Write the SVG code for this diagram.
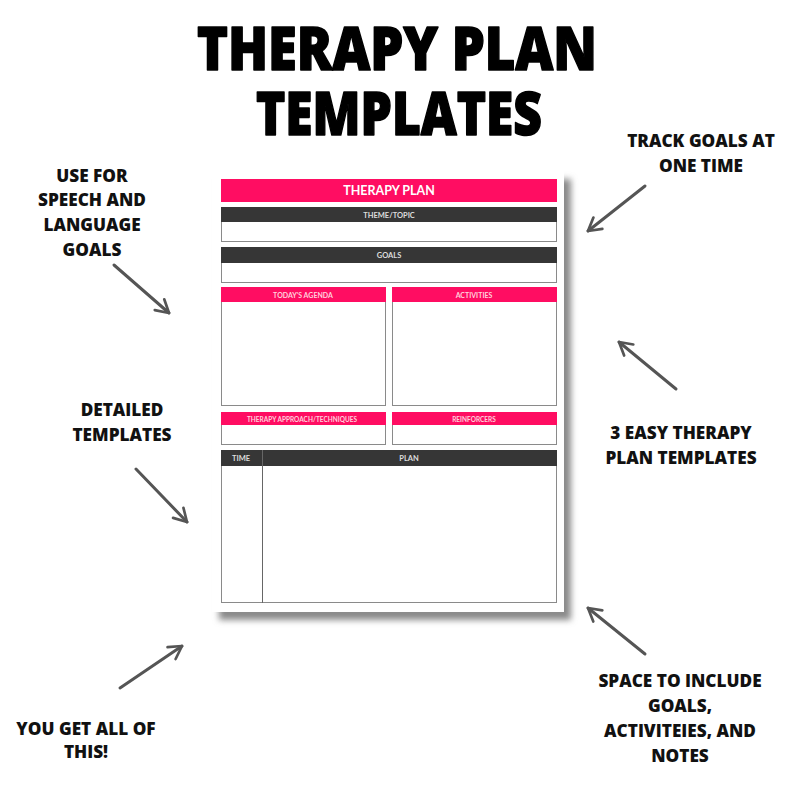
<svg xmlns="http://www.w3.org/2000/svg" width="794" height="794" viewBox="0 0 794 794">
<defs>
<style>
.title{font-family:"Open Sans","Liberation Sans",sans-serif;font-weight:800;font-size:60px;fill:#000;stroke:#000;stroke-width:1.6;stroke-linejoin:round;text-anchor:middle}
.lbl{font-family:"Open Sans","Liberation Sans",sans-serif;font-weight:800;font-size:17.2px;fill:#111;text-anchor:middle}
.arrow{stroke:#555;stroke-width:3;fill:none;stroke-linecap:round;stroke-linejoin:round}
.pink{fill:#ff0d62}
.dark{fill:#363636}
.box{fill:#fff;stroke:#8a8a8a;stroke-width:1}
.ph{font-family:Lato,"Open Sans",sans-serif;font-weight:700;text-anchor:middle}
</style>
<filter id="sh" x="-10%" y="-10%" width="120%" height="120%">
<feGaussianBlur stdDeviation="3"/>
</filter>
<marker id="ah" viewBox="0 0 20 20" refX="17" refY="10" markerWidth="6" markerHeight="6" markerUnits="strokeWidth" orient="auto">
<path d="M3,2 L17,10 L3,18" fill="none" stroke="#555" stroke-width="3" stroke-linecap="round" stroke-linejoin="round"/>
</marker>
</defs>
<rect width="794" height="794" fill="#fff"/>
<g id="title">
<text class="title" x="397" y="70" textLength="400" lengthAdjust="spacingAndGlyphs">THERAPY PLAN</text>
<text class="title" x="399" y="135" textLength="286" lengthAdjust="spacingAndGlyphs">TEMPLATES</text>
</g>
<g id="page">
<rect x="219" y="179" width="352" height="441" fill="#8a8a8a" filter="url(#sh)"/>
<rect x="212" y="171" width="352" height="441" fill="#fff"/>
<rect class="pink" x="221" y="179" width="336" height="23"/>
<text class="ph" x="389" y="195" font-size="12.5" fill="#fff">THERAPY PLAN</text>
<rect class="box" x="221.5" y="207.5" width="335" height="34"/>
<rect class="dark" x="221" y="207" width="336" height="15"/>
<text class="ph" x="389" y="217.5" font-size="7.5" fill="#ddd">THEME/TOPIC</text>
<rect class="box" x="221.5" y="247.5" width="335" height="35"/>
<rect class="dark" x="221" y="247" width="336" height="16"/>
<text class="ph" x="389" y="258" font-size="7.5" fill="#ddd">GOALS</text>
<rect class="box" x="221.5" y="287.5" width="164" height="118"/>
<rect class="pink" x="221" y="287" width="165" height="15"/>
<text class="ph" x="303" y="297.5" font-size="7" fill="#ffd0dc">TODAY'S AGENDA</text>
<rect class="box" x="392.5" y="287.5" width="164" height="118"/>
<rect class="pink" x="392" y="287" width="165" height="15"/>
<text class="ph" x="474" y="298" font-size="7" fill="#ffd0dc">ACTIVITIES</text>
<rect class="box" x="221.5" y="412.5" width="164" height="32"/>
<rect class="pink" x="221" y="412" width="165" height="13"/>
<text class="ph" x="302" y="421.5" font-size="6.5" fill="#ffd0dc">THERAPY APPROACH/TECHNIQUES</text>
<rect class="box" x="392.5" y="412.5" width="164" height="32"/>
<rect class="pink" x="392" y="412" width="165" height="13"/>
<text class="ph" x="474" y="421.5" font-size="6.5" fill="#ffd0dc">REINFORCERS</text>
<rect class="box" x="221.5" y="450.5" width="335" height="152"/>
<rect class="dark" x="221" y="450" width="336" height="16"/>
<line x1="262.5" y1="450" x2="262.5" y2="603" stroke="#666" stroke-width="1"/>
<text class="ph" x="241" y="461" font-size="7.5" fill="#ddd">TIME</text>
<text class="ph" x="409" y="461" font-size="7.5" fill="#ddd">PLAN</text>
</g>
<g id="label-use">
<text class="lbl" x="92" y="182">USE FOR</text>
<text class="lbl" x="92" y="206">SPEECH AND</text>
<text class="lbl" x="92" y="231">LANGUAGE</text>
<text class="lbl" x="92" y="256">GOALS</text>
</g>
<g id="label-track">
<text class="lbl" x="701" y="147">TRACK GOALS AT</text>
<text class="lbl" x="701" y="172">ONE TIME</text>
</g>
<g id="label-easy">
<text class="lbl" x="681" y="439">3 EASY THERAPY</text>
<text class="lbl" x="681" y="464">PLAN TEMPLATES</text>
</g>
<g id="label-detailed">
<text class="lbl" x="122" y="416">DETAILED</text>
<text class="lbl" x="122" y="441">TEMPLATES</text>
</g>
<g id="label-you">
<text class="lbl" x="86" y="735">YOU GET ALL OF</text>
<text class="lbl" x="86" y="758">THIS!</text>
</g>
<g id="label-space">
<text class="lbl" x="680" y="687">SPACE TO INCLUDE</text>
<text class="lbl" x="680" y="712">GOALS,</text>
<text class="lbl" x="680" y="737">ACTIVITEIES, AND</text>
<text class="lbl" x="680" y="762">NOTES</text>
</g>
<g id="connectors">
<line class="arrow" x1="114" y1="265" x2="169" y2="313" marker-end="url(#ah)"/>
<line class="arrow" x1="645" y1="186" x2="588" y2="231" marker-end="url(#ah)"/>
<line class="arrow" x1="676" y1="389" x2="619" y2="342" marker-end="url(#ah)"/>
<line class="arrow" x1="136" y1="469" x2="187" y2="522" marker-end="url(#ah)"/>
<line class="arrow" x1="120" y1="688" x2="182" y2="646" marker-end="url(#ah)"/>
<line class="arrow" x1="645" y1="654" x2="588" y2="608" marker-end="url(#ah)"/>
</g>
</svg>
